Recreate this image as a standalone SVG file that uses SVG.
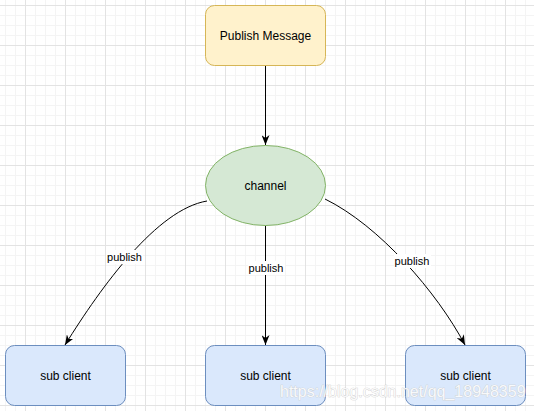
<svg xmlns="http://www.w3.org/2000/svg" width="534" height="411" viewBox="0 0 534 411">
<style>
.lbl{font-family:"Liberation Sans",Arial,sans-serif;font-size:12px;fill:#000;text-anchor:middle}
.elbl{font-family:"Liberation Sans",Arial,sans-serif;font-size:11px;fill:#000;text-anchor:middle}
.edge{fill:none;stroke:#000;stroke-width:1;marker-end:url(#arr)}
.sub{fill:#dae8fc;stroke:#6c8ebf;stroke-width:1}
.wm{font-family:"Liberation Sans",Arial,sans-serif;font-size:16px;fill:#ffffff;fill-opacity:0.85;stroke:#c8c8c8;stroke-width:0.6;paint-order:stroke}
</style>
<defs>
<pattern id="grid" x="25" y="5" width="40" height="40" patternUnits="userSpaceOnUse">
<rect x="0" y="0" width="40" height="40" fill="#ffffff"/>
<rect x="10" y="0" width="1" height="40" fill="#f4f4f4"/>
<rect x="20" y="0" width="1" height="40" fill="#f4f4f4"/>
<rect x="30" y="0" width="1" height="40" fill="#f4f4f4"/>
<rect x="0" y="10" width="40" height="1" fill="#f4f4f4"/>
<rect x="0" y="20" width="40" height="1" fill="#f4f4f4"/>
<rect x="0" y="30" width="40" height="1" fill="#f4f4f4"/>
<rect x="0" y="0" width="1" height="40" fill="#e3e3e3"/>
<rect x="0" y="0" width="40" height="1" fill="#e3e3e3"/>
</pattern>
<marker id="arr" viewBox="0 0 10 8" refX="10" refY="4" markerWidth="10" markerHeight="8" markerUnits="userSpaceOnUse" orient="auto">
<path d="M0,0 L10,4 L0,8 L3,4 z" fill="#000"/>
</marker>
</defs>
<rect x="0" y="0" width="534" height="411" fill="url(#grid)"/>
<g id="connectors">
<path class="edge" d="M265.5,65.5 L265.5,145"/>
<path class="edge" d="M265.5,225.5 L265.5,345"/>
<path class="edge" d="M207,201 C157,209.5 102,285.5 65,345"/>
<path class="edge" d="M325,199 C379,225.4 437,292 465,345"/>
<rect x="106" y="250" width="37" height="14" fill="#fff"/>
<text class="elbl" x="124.5" y="261">publish</text>
<rect x="248" y="261" width="37" height="14" fill="#fff"/>
<text class="elbl" x="266" y="272">publish</text>
<rect x="394" y="254" width="37" height="14" fill="#fff"/>
<text class="elbl" x="412" y="265">publish</text>
</g>
<g id="publish-message">
<rect x="205.5" y="5.5" width="120" height="60" rx="9" fill="#fff2cc" stroke="#d6b656"/>
<text class="lbl" x="265.5" y="39.5">Publish Message</text>
</g>
<g id="channel">
<ellipse cx="265.5" cy="185.5" rx="60" ry="40" fill="#d5e8d4" stroke="#82b366"/>
<text class="lbl" x="265.5" y="189.5">channel</text>
</g>
<g id="sub-client-1">
<rect class="sub" x="5.5" y="345.5" width="120" height="60" rx="9"/>
<text class="lbl" x="65.5" y="379.5">sub client</text>
</g>
<g id="sub-client-2">
<rect class="sub" x="205.5" y="345.5" width="120" height="60" rx="9"/>
<text class="lbl" x="265.5" y="379.5">sub client</text>
</g>
<g id="sub-client-3">
<rect class="sub" x="405.5" y="345.5" width="120" height="60" rx="9"/>
<text class="lbl" x="465.5" y="379.5">sub client</text>
</g>
<text class="wm" x="280" y="397">https://blog.csdn.net/qq_18948359</text>
</svg>
